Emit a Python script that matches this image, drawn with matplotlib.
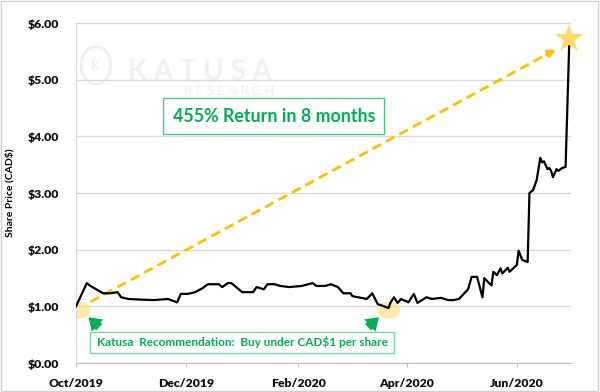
import matplotlib
matplotlib.use("Agg")
import matplotlib.pyplot as plt
import matplotlib.dates as mdates
from matplotlib.patches import Ellipse, Rectangle
import numpy as np
import datetime as dt

# ---- data ----
day_offsets = [0, 6, 8, 15, 19, 23, 25, 29, 35, 43, 51, 56, 58, 62, 66, 70, 73, 79, 81, 84,
               86, 92, 98, 100, 104, 106, 110, 113, 118, 125, 131, 133, 138, 141, 145, 148,
               152, 153, 161, 164, 167, 173, 174, 176, 178, 180, 184, 187, 189, 194, 197,
               202, 206, 209, 212, 217, 219, 222, 225, 226, 228, 230, 231, 233, 235, 236,
               239, 240, 244, 245, 247, 250, 251, 253, 255, 257, 258, 259, 261, 262, 263,
               264, 266, 267, 269, 271, 273]
prices = [1.00, 1.41, 1.36, 1.23, 1.23, 1.25, 1.16, 1.13, 1.12, 1.11, 1.13, 1.07, 1.22, 1.22,
          1.25, 1.32, 1.39, 1.39, 1.34, 1.41, 1.41, 1.25, 1.25, 1.34, 1.30, 1.39, 1.39, 1.36,
          1.34, 1.36, 1.41, 1.36, 1.36, 1.39, 1.34, 1.23, 1.23, 1.18, 1.13, 1.23, 1.04, 0.97,
          1.06, 1.16, 1.06, 1.13, 1.07, 1.22, 1.06, 1.16, 1.13, 1.15, 1.11, 1.11, 1.13, 1.30,
          1.52, 1.52, 1.16, 1.50, 1.43, 1.37, 1.61, 1.55, 1.67, 1.58, 1.68, 1.61, 1.73, 1.98,
          1.82, 1.78, 3.00, 3.05, 3.23, 3.62, 3.54, 3.56, 3.42, 3.44, 3.39, 3.28, 3.42, 3.39,
          3.44, 3.46, 5.61]
start_date = dt.date(2019, 10, 1)
dates = [start_date + dt.timedelta(days=d) for d in day_offsets]

tick_dates = [dt.date(2019, 10, 1), dt.date(2019, 12, 1), dt.date(2020, 2, 1),
              dt.date(2020, 4, 1), dt.date(2020, 6, 1)]
tick_labels = ["Oct/2019", "Dec/2019", "Feb/2020", "Apr/2020", "Jun/2020"]
y_ticks = [0, 1, 2, 3, 4, 5, 6]
y_labels = ["$0.00", "$1.00", "$2.00", "$3.00", "$4.00", "$5.00", "$6.00"]

title_note = "455% Return in 8 months"
rec_note = "Katusa  Recommendation:  Buy under CAD$1 per share"

plt.rcParams['font.family'] = ['Lato', 'DejaVu Sans']

fig = plt.figure(figsize=(6.0, 3.92), dpi=100)
fig.patch.set_facecolor('white')
fig.add_artist(Rectangle((0.002, 0.003), 0.995, 0.994, transform=fig.transFigure,
                         fill=False, edgecolor='#D0D0D0', lw=1))
ax = fig.add_axes([76/600, 29/392, 495/600, 340/392])

d0 = mdates.date2num(start_date)
x_end = mdates.date2num(dt.date(2020, 7, 1))
ax.set_xlim(d0, x_end)
ax.set_ylim(0, 6)

for s in ['top', 'right']:
    ax.spines[s].set_visible(False)
ax.spines['left'].set_color('#D9D9D9')
ax.spines['bottom'].set_color('#BFBFBF')
ax.grid(axis='y', color='#D9D9D9', lw=1)
ax.set_axisbelow(True)

ax.set_yticks(y_ticks)
ax.set_yticklabels(y_labels, fontsize=8.8, fontweight='heavy', color='#111111')
ax.set_xticks([mdates.date2num(d) for d in tick_dates])
ax.set_xticklabels(tick_labels, fontsize=8.8, fontweight='heavy', color='#111111')
ax.tick_params(axis='y', length=0, pad=12)
ax.tick_params(axis='x', length=3, color='#BFBFBF', pad=8)
ax.set_ylabel("Share Price (CAD$)", fontsize=7.5, fontweight='bold', labelpad=10)

# watermark
ax.text(0.105, 0.855, "K A T U S A", transform=ax.transAxes, fontsize=20, fontweight='bold',
        color='#F1F1F1', va='center', ha='left', zorder=0)
ax.text(0.218, 0.8, "R E S E A R C H", transform=ax.transAxes, fontsize=9.5,
        color='#F1F1F1', va='center', ha='left', zorder=0)
ax.add_patch(Ellipse((0.04, 0.875), 0.06, 0.11, transform=ax.transAxes, fill=False,
                     edgecolor='#EFEFEF', lw=2, zorder=0))
ax.text(0.04, 0.875, "K", transform=ax.transAxes, fontsize=10, color='#EAEAEA',
        ha='center', va='center', zorder=0)

# ellipses
ax.add_patch(Ellipse((d0 + 1.7, 0.93), 12.5, 0.30, facecolor='#FFD966', alpha=0.55,
                     edgecolor='none', zorder=2))
ax.add_patch(Ellipse((d0 + 173, 0.93), 12.7, 0.30, facecolor='#FFD966', alpha=0.55,
                     edgecolor='none', zorder=2))

# price line
ax.plot([mdates.date2num(d) for d in dates], prices, color='black', lw=1.6, zorder=4)

# dashed gold arrow
ax.plot([d0 + 8, d0 + 262], [1.08, 5.47], color='#FFC000', lw=2, ls=(0, (3.5, 2)), zorder=3)
ax.annotate("", xy=(d0 + 267, 5.55), xytext=(d0 + 259, 5.42),
            arrowprops=dict(arrowstyle='-|>', color='#FFC000', lw=2, mutation_scale=11),
            zorder=3)
# star
ax.plot([d0 + 273], [5.71], marker='*', markersize=21, color='#FFD966', zorder=5,
        markeredgewidth=0, clip_on=False)

# green arrows
arrow_style = 'simple,head_length=0.55,head_width=0.75,tail_width=0.4'
ax.annotate("", xy=(d0 + 5.8, 0.84), xytext=(d0 + 14.0, 0.60),
            arrowprops=dict(arrowstyle=arrow_style, color='#00B050', lw=0, mutation_scale=16),
            zorder=5)
ax.annotate("", xy=(d0 + 168.8, 0.84), xytext=(d0 + 160.5, 0.60),
            arrowprops=dict(arrowstyle=arrow_style, color='#00B050', lw=0, mutation_scale=16),
            zorder=5)

# text boxes
ax.add_patch(Rectangle(((163-76)/495, (363-134)/340), 221/495, 36/340, transform=ax.transAxes,
                       facecolor='white', edgecolor='#4CC97F', lw=1, zorder=6))
ax.text((274-76)/495, (363-116)/340, title_note, transform=ax.transAxes, fontsize=12.8,
        fontweight='bold', color='#00B050', ha='center', va='center', zorder=7)
ax.add_patch(Rectangle((14/495, (363-353)/340), 304/495, 21/340, transform=ax.transAxes,
                       facecolor='white', edgecolor='#7FD8A0', lw=1, zorder=6, clip_on=False))
ax.text((242-76)/495, (363-342.5)/340, rec_note, transform=ax.transAxes, fontsize=8.5,
        fontweight='bold', color='#00B050', ha='center', va='center', zorder=7)

fig.savefig("out.png", dpi=100, facecolor='white')
